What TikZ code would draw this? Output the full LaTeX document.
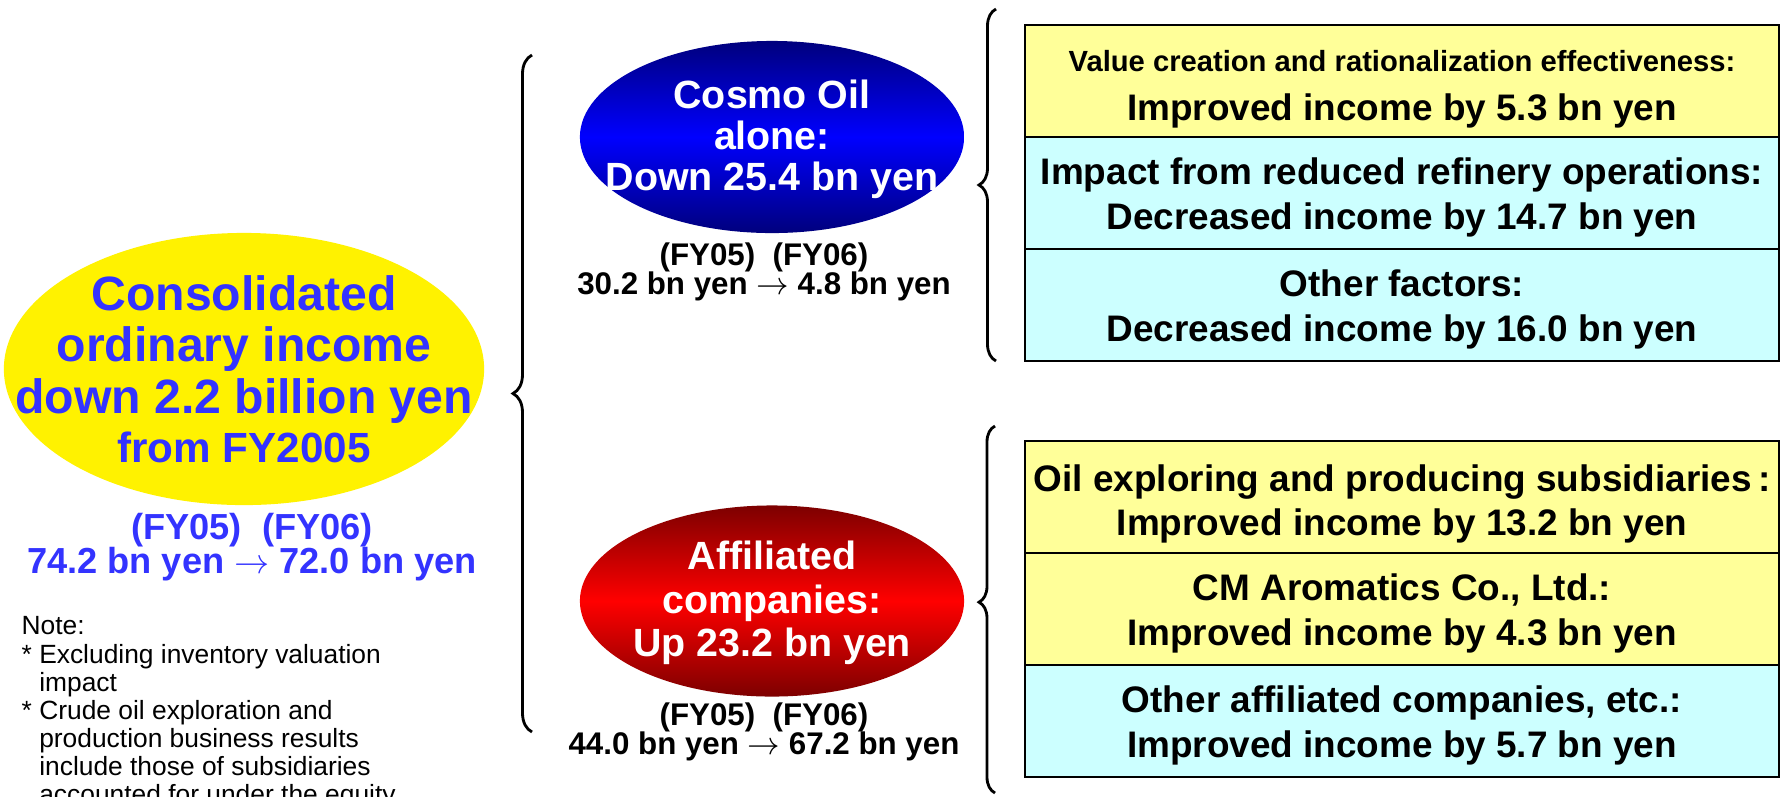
\documentclass[tikz,border=0pt]{standalone}
\usepackage{fontspec}
\setmainfont{Liberation Sans}
\usetikzlibrary{shapes.geometric,positioning,decorations.pathreplacing}
\definecolor{consblue}{RGB}{51,51,255}
\definecolor{rowyellow}{RGB}{255,255,153}
\definecolor{rowcyan}{RGB}{204,255,255}
\definecolor{darknavy}{RGB}{0,0,125}
\definecolor{darkred}{RGB}{125,0,0}
\newcommand\tightlines{\lineskiplimit=-10pt\relax}
\begin{document}
\begin{tikzpicture}[x=0.01cm,y=-0.01cm,
  oval/.style={ellipse,inner sep=0pt,minimum width=3.84cm,minimum height=1.92cm},
  ovaltext/.style={align=center,inner sep=0pt,text=white,font=\bfseries\fontsize{11.2}{11.7}\selectfont},
  fy/.style={align=center,inner sep=0pt,font=\bfseries\fontsize{8.9}{8.4}\selectfont\tightlines},
  row/.style={draw,line width=0.6pt,outer sep=0pt,inner sep=0pt,minimum width=7.54cm,minimum height=1.12cm},
  rowtext/.style={align=center,inner sep=0pt,font=\bfseries\fontsize{10.5}{12.8}\selectfont},
  bracket/.style={decorate,decoration={brace,amplitude=#1},line width=0.8pt}]
\useasboundingbox (0,0) rectangle (1781,796);
\clip (0,0) rectangle (1781,796);
%Consolidated result
\node[oval,fill=yellow,minimum width=4.8cm,minimum height=2.72cm] (cons) at (244,369) {};
\node[align=center,inner sep=0pt,text=consblue,font=\bfseries\fontsize{13.7}{14.7}\selectfont] (constext) at (cons) {Consolidated\\ordinary income\\down 2.2 billion yen\\[-0.8pt]{\fontsize{12}{14}\selectfont from FY2005}};
\node[fy,text=consblue,font=\bfseries\fontsize{10.3}{9.8}\selectfont\tightlines] (consfy) at (252,547) {(FY05)~~(FY06)\\74.2 bn yen $\rightarrow$ 72.0 bn yen};
\node[align=left,anchor=north west,inner sep=0pt,font=\fontsize{7.5}{8}\selectfont] (note) at (21,616) {Note:\\{*} Excluding inventory valuation\\\hphantom{* }impact\\{*} Crude oil exploration and\\\hphantom{* }production business results\\\hphantom{* }include those of subsidiaries\\\hphantom{* }accounted for under the equity};
%Brace to the two parts
\draw[bracket=0.19cm] (532,732) -- (532,55);
%Cosmo Oil alone
\node[oval,top color=darknavy,bottom color=darknavy,middle color=blue] (cosmo) at (772,137) {};
\node[ovaltext] (cosmotext) at (772,139) {Cosmo Oil\\alone:\\Down 25.4 bn yen};
\node[fy] (cosmofy) at (764,272) {(FY05)~~(FY06)\\30.2 bn yen $\rightarrow$ 4.8 bn yen};
%Affiliated companies
\node[oval,minimum height=1.91cm,top color=darkred,bottom color=darkred,middle color=red] (affil) at (772,601) {};
\node[ovaltext,font=\bfseries\fontsize{11.2}{12.4}\selectfont] (affiltext) at (772,603) {Affiliated\\companies:\\Up 23.2 bn yen};
\node[fy] (affilfy) at (764,732) {(FY05)~~(FY06)\\44.0 bn yen $\rightarrow$ 67.2 bn yen};
%Factors of Cosmo Oil
\draw[bracket=0.17cm] (996,361) -- (996,9);
\node[row,fill=rowyellow] (value) at (1402,81) {};
\node[row,fill=rowcyan,below=0pt of value] (refinery) {};
\node[row,fill=rowcyan,below=0pt of refinery] (other) {};
\node[rowtext] (valuetext) at (1402,89.5) {{\fontsize{8.3}{10}\selectfont Value creation and rationalization effectiveness:}\\[1.1pt]Improved income by 5.3 bn yen};
\node[rowtext] (refinerytext) at (1402,197) {Impact from reduced refinery operations:\\Decreased income by 14.7 bn yen};
\node[rowtext] (othertext) at (1402,309) {Other factors:\\Decreased income by 16.0 bn yen};
%Factors of affiliated companies
\draw[bracket=0.16cm,decoration={aspect=0.52}] (995,793) -- (995,426);
\node[row,fill=rowyellow] (oilexp) at (1402,497) {};
\node[row,fill=rowyellow,below=0pt of oilexp] (aromatics) {};
\node[row,fill=rowcyan,below=0pt of aromatics] (otheraffil) {};
\node[rowtext,font=\bfseries\fontsize{10.5}{12.3}\selectfont] (oilexptext) at (1402,504) {Oil exploring and producing subsidiaries\,:\\Improved income by 13.2 bn yen};
\node[rowtext] (aromaticstext) at (1402,613) {CM Aromatics Co., Ltd.:\\Improved income by 4.3 bn yen};
\node[rowtext] (otheraffiltext) at (1402,725) {Other affiliated companies, etc.:\\Improved income by 5.7 bn yen};
\end{tikzpicture}
\end{document}
